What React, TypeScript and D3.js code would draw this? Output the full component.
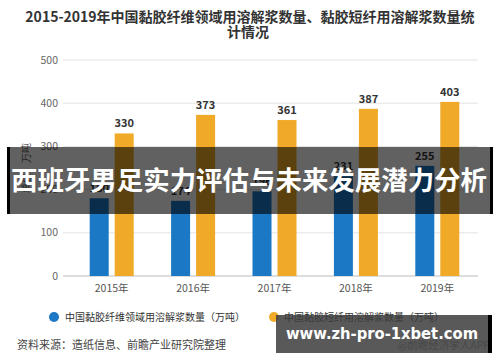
import React from 'react'
import * as d3 from 'd3';

const years = ['2015年', '2016年', '2017年', '2018年', '2019年'];
const fiberValues = [180, 174, 196, 231, 255];
const shortFiberValues = [330, 373, 361, 387, 403];
const yTicks = [0, 100, 200, 300, 400, 500];
const seriesNames = ['中国黏胶纤维领域用溶解浆数量（万吨）', '中国黏胶短纤用溶解浆数量（万吨）'];

const blue = '#1b78c4';
const orange = '#f0aa27';
const font = '"Noto Sans CJK SC", "Noto Sans", sans-serif';

const App: React.FC = () => {
  const width = 500;
  const height = 362;

  const x = d3.scaleBand<string>()
    .domain(years)
    .range([71, 478]);

  const y = d3.scaleLinear()
    .domain([0, 500])
    .range([276, 60]);

  const barW = 19;
  const gap = 6;

  return (
    <svg width={width} height={height} style={{position: 'absolute', left: 0, top: 0, background: '#fff'}} fontFamily={font}>
      <rect width={width} height={height} fill='#fff'></rect>
      <text x={250} y={22} textAnchor='middle' fontSize={14} fontWeight='bold' fill='#333'>
        2015-2019年中国黏胶纤维领域用溶解浆数量、黏胶短纤用溶解浆数量统
      </text>
      <text x={248} y={37} textAnchor='middle' fontSize={14} fontWeight='bold' fill='#333'>计情况</text>

      {yTicks.map(t => (
        <g key={t}>
          <line x1={63} x2={478} y1={y(t)} y2={y(t)} stroke={t === 0 ? '#bbb' : '#e3e3e3'} strokeWidth={1}></line>
          <text x={58} y={y(t)} dy='0.35em' textAnchor='end' fontSize={10.5} fill='#666'>{t}</text>
        </g>
      ))}
      <text transform={`translate(30, 168) rotate(-90)`} textAnchor='middle' fontSize={10} fill='#666'>单位：万吨</text>

      {years.map((yr, i) => {
        const cx = (x(yr) as number) + x.bandwidth() / 2;
        const bx = cx - gap / 2 - barW;
        const ox = cx + gap / 2;
        return (
          <g key={yr}>
            <rect x={bx} y={y(fiberValues[i])} width={barW} height={y(0) - y(fiberValues[i])} fill={blue}></rect>
            <rect x={ox} y={y(shortFiberValues[i])} width={barW} height={y(0) - y(shortFiberValues[i])} fill={orange}></rect>
            <text x={bx + barW / 2} y={y(fiberValues[i]) - 6} textAnchor='middle' fontSize={11} fontWeight='bold' fill='#333'>{fiberValues[i]}</text>
            <text x={ox + barW / 2} y={y(shortFiberValues[i]) - 6} textAnchor='middle' fontSize={11} fontWeight='bold' fill='#333'>{shortFiberValues[i]}</text>
            <text x={cx} y={292} textAnchor='middle' fontSize={10.5} fill='#555'>{yr}</text>
          </g>
        );
      })}

      <circle cx={54} cy={317} r={5} fill={blue}></circle>
      <text x={65} y={317} dy='0.35em' fontSize={10} fill='#333'>{seriesNames[0]}</text>
      <circle cx={274} cy={317} r={5} fill={orange}></circle>
      <text x={284} y={317} dy='0.35em' fontSize={10} fill='#333'>{seriesNames[1]}</text>

      <text x={17} y={349} fontSize={11} fill='#444'>资料来源：造纸信息、前瞻产业研究院整理</text>
      <text x={490} y={349} textAnchor='end' fontSize={10.5} fill='#888'>@前瞻经济学人APP</text>

      <rect x={7} y={147} width={486} height={67} fill='rgba(0,0,0,0.62)'></rect>
      <rect x={7} y={147} width={3} height={67} fill='#000'></rect>
      <rect x={490} y={147} width={3} height={67} fill='#000'></rect>
      <text x={249} y={181} dy='0.35em' textAnchor='middle' fontSize={26.5} fontWeight='bold' fill='#fff'
        textLength={476} lengthAdjust='spacingAndGlyphs'>西班牙男足实力评估与未来发展潜力分析</text>

      <rect x={276} y={315} width={212} height={38} fill='rgba(60,60,60,0.85)'></rect>
      <rect x={488} y={315} width={4} height={38} fill='#000'></rect>
      <text x={382} y={333} dy='0.35em' textAnchor='middle' fontSize={16} fontWeight='bold' fill='#fff'
        fontFamily='"DejaVu Sans", sans-serif' textLength={192} lengthAdjust='spacingAndGlyphs'>www.zh-pro-1xbet.com</text>
    </svg>
  )
}

export default App
